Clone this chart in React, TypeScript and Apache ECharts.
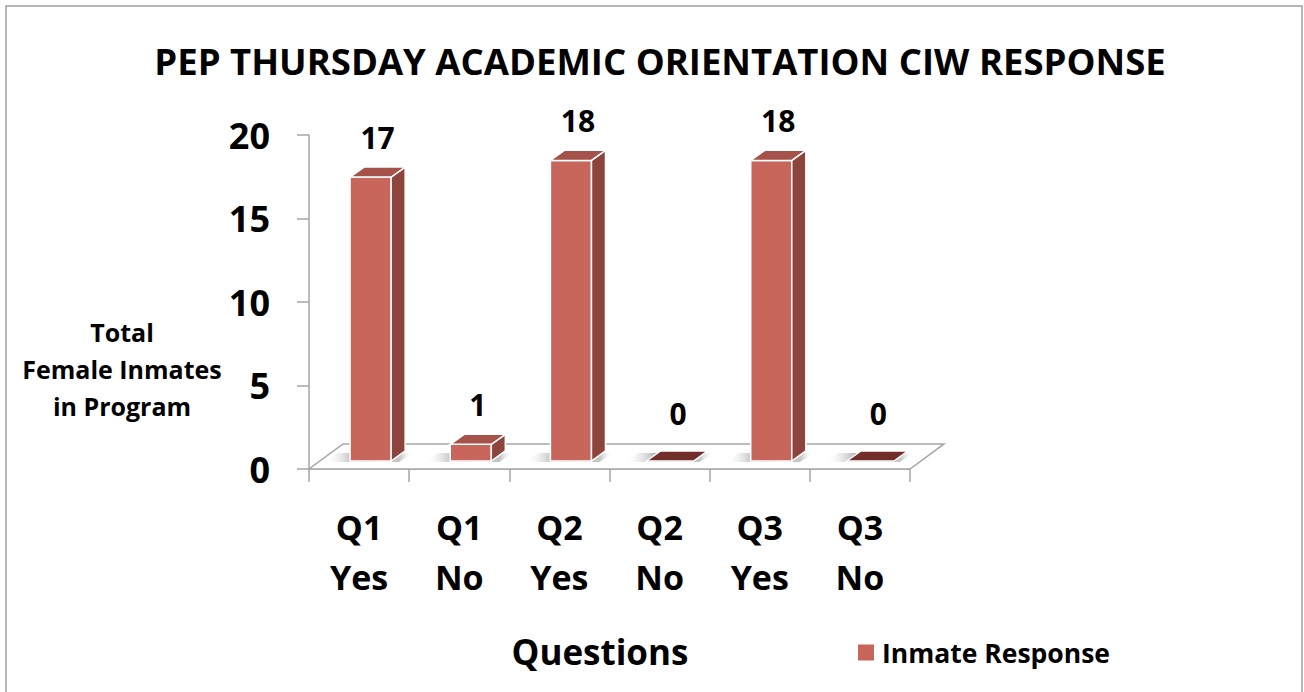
import React, { useEffect, useRef } from "react";
import * as echarts from "echarts";

const categories = ["Q1\nYes", "Q1\nNo", "Q2\nYes", "Q2\nNo", "Q3\nYes", "Q3\nNo"];
const values = [17, 1, 18, 0, 18, 0];
const seriesName = "Inmate Response";
const titleText = "PEP THURSDAY ACADEMIC ORIENTATION CIW RESPONSE";
const yAxisName = "Total\nFemale Inmates\nin Program";
const xAxisName = "Questions";
const yMin = 0;
const yMax = 20;
const yInterval = 5;

const FONT = '"Open Sans", "Liberation Sans", sans-serif';
const FRONT = "#c9665c";
const SIDE = "#8d443c";
const TOP = "#a5524a";
const ZERO = "#722e2b";

export default function App() {
  const ref = useRef<HTMLDivElement>(null);
  useEffect(() => {
    document.body.style.margin = "0";
    if (!ref.current) return;
    const chart = echarts.init(ref.current, null, { renderer: "svg" });

    const floorRender = (params: any, api: any) => {
      const bw = api.size([1, 0])[0];
      const a = api.coord([0, 0]);
      const b = api.coord([categories.length - 1, 0]);
      const L = a[0] - bw / 2;
      const R = b[0] + bw / 2;
      const y0 = a[1];
      const dx = 0.34 * bw;
      const dy = -0.25 * bw;
      return {
        type: "polygon",
        shape: { points: [[L, y0], [R, y0], [R + dx, y0 + dy], [L + dx, y0 + dy]] },
        style: { fill: "#ffffff", stroke: "#a6a6a6", lineWidth: 1.5 },
        z2: 0,
      };
    };

    const barRender = (params: any, api: any) => {
      const idx = api.value(0);
      const v = api.value(1);
      const bw = api.size([1, 0])[0];
      const base = api.coord([idx, 0]);
      const topC = api.coord([idx, v]);
      const c = base[0];
      const shift = 0.08 * bw;
      const yBase = base[1] - shift;
      const yTop = topC[1] - shift;
      const left = c - 0.09 * bw;
      const w = 0.41 * bw;
      const dx = 0.14 * bw;
      const dy = -0.1 * bw;
      const right = left + w;
      const children: any[] = [];
      // soft shadow on floor (gradient fading to the left)
      children.push({
        type: "polygon",
        shape: {
          points: [
            [left - 26, yBase + 1],
            [right + 8, yBase + 1],
            [right + dx + 8, yBase + dy + 2],
            [left + dx - 26, yBase + dy + 2],
          ],
        },
        style: {
          fill: {
            type: "linear",
            x: 0,
            y: 0,
            x2: 1,
            y2: 0,
            colorStops: [
              { offset: 0, color: "rgba(255,255,255,0)" },
              { offset: 0.35, color: "rgba(110,110,110,0.55)" },
              { offset: 0.85, color: "rgba(130,130,130,0.45)" },
              { offset: 1, color: "rgba(255,255,255,0)" },
            ],
          },
        },
      });
      if (v > 0) {
        children.push({
          type: "rect",
          shape: { x: left, y: yTop, width: w, height: yBase - yTop },
          style: { fill: FRONT, stroke: "#ffffff", lineWidth: 1.5 },
        });
        children.push({
          type: "polygon",
          shape: {
            points: [
              [right, yTop],
              [right + dx, yTop + dy],
              [right + dx, yBase + dy],
              [right, yBase],
            ],
          },
          style: { fill: SIDE, stroke: "#ffffff", lineWidth: 1.5 },
        });
        children.push({
          type: "polygon",
          shape: {
            points: [
              [left, yTop],
              [left + dx, yTop + dy],
              [right + dx, yTop + dy],
              [right, yTop],
            ],
          },
          style: { fill: TOP, stroke: "#ffffff", lineWidth: 1.5 },
        });
      } else {
        children.push({
          type: "polygon",
          shape: {
            points: [
              [left - 4, yBase],
              [left + dx - 4, yBase + dy],
              [right + dx + 2, yBase + dy],
              [right + 2, yBase],
            ],
          },
          style: { fill: ZERO, stroke: "#ffffff", lineWidth: 1.5 },
        });
      }
      children.push({
        type: "text",
        x: left + (w + dx) / 2,
        y: yTop + dy - (v > 0 ? 30 : 37),
        style: {
          text: String(v),
          font: `bold 30px ${FONT}`,
          fill: "#000000",
          textAlign: "center",
          textVerticalAlign: "middle",
        },
      });
      return { type: "group", children };
    };

    chart.setOption({
      animation: false,
      backgroundColor: "#ffffff",
      title: {
        text: titleText,
        left: 655,
        textAlign: "center",
        top: 32,
        textStyle: { fontFamily: FONT, fontWeight: "bold", fontSize: 36.5, color: "#000", lineHeight: 48 },
      },
      legend: {
        data: [seriesName],
        left: 853,
        top: 634,
        icon: "rect",
        itemWidth: 16,
        itemHeight: 16,
        textStyle: { fontFamily: FONT, fontWeight: "bold", fontSize: 26.5, color: "#000", padding: [0, 0, 0, 3] },
      },
      grid: { left: 309, right: 394, top: 135, bottom: 223, containLabel: false },
      xAxis: {
        type: "category",
        data: categories,
        boundaryGap: true,
        axisLine: { show: true, lineStyle: { color: "#a6a6a6", width: 1.5 } },
        axisTick: { show: true, length: 13, interval: 0, lineStyle: { color: "#a6a6a6", width: 1.5 } },
        axisLabel: {
          interval: 0,
          margin: 33,
          fontFamily: FONT,
          fontWeight: "bold",
          fontSize: 34,
          lineHeight: 50,
          color: "#000",
        },
        splitLine: { show: false },
      },
      yAxis: {
        type: "value",
        min: yMin,
        max: yMax,
        interval: yInterval,
        axisLine: { show: true, lineStyle: { color: "#a6a6a6", width: 1.5 } },
        axisTick: { show: true, length: 12, lineStyle: { color: "#a6a6a6", width: 1.5 } },
        axisLabel: { margin: 39, fontFamily: FONT, fontWeight: "bold", fontSize: 36, color: "#000" },
        splitLine: { show: false },
      },
      graphic: [
        {
          type: "rect",
          shape: { x: 6, y: 6, width: 1296, height: 700 },
          style: { fill: "none", stroke: "#a0a0a0", lineWidth: 1.5 },
          silent: true,
          z: -1,
        },
        {
          type: "text",
          x: 122,
          y: 369,
          style: {
            text: yAxisName,
            font: `bold 25px ${FONT}`,
            lineHeight: 37,
            fill: "#000",
            textAlign: "center",
            textVerticalAlign: "middle",
          },
        },
        {
          type: "text",
          x: 600,
          y: 651,
          style: {
            text: xAxisName,
            font: `bold 35px ${FONT}`,
            fill: "#000",
            textAlign: "center",
            textVerticalAlign: "middle",
          },
        },
      ],
      series: [
        {
          type: "custom",
          name: "floor",
          data: [[0, 0]],
          encode: { x: 0, y: 1 },
          renderItem: floorRender,
          clip: false,
          silent: true,
          z: 1,
        },
        {
          type: "custom",
          name: seriesName,
          data: values.map((v, i) => [i, v]),
          encode: { x: 0, y: 1 },
          renderItem: barRender,
          itemStyle: { color: FRONT },
          clip: false,
          z: 2,
        },
      ],
    });
    return () => chart.dispose();
  }, []);
  return <div ref={ref} style={{ width: 1304, height: 692 }} />;
}
